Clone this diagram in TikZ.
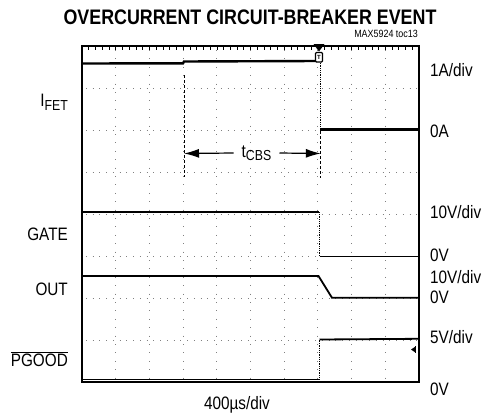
\documentclass[tikz,border=0pt]{standalone}
\usepackage{fontspec}
\setmainfont{Liberation Sans}
\newfontfamily\narrowfont[FakeStretch=0.85]{Liberation Sans}
\usetikzlibrary{arrows.meta}
\begin{document}
\begin{tikzpicture}[x=1pt,y=-1pt,
  lab/.style={font=\narrowfont\fontsize{18}{18}\selectfont, inner sep=0pt},
  titlelab/.style={font=\narrowfont\bfseries\fontsize{21}{21}\selectfont, inner sep=0pt},
  smalllab/.style={font=\narrowfont\fontsize{10.5}{10.5}\selectfont, inner sep=0pt},
  vgrid/.style={gray, line width=0.9pt, dash pattern=on 0.9pt off 7.5pt},
  hgrid/.style={gray, line width=0.9pt, dash pattern=on 0.9pt off 5.84pt},
  trace/.style={black, line width=1.8pt},
  edgeline/.style={black, line width=0.8pt, densely dotted},
  marker/.style={black, line width=1pt, dash pattern=on 3pt off 2pt},
  dimarrow/.style={black, line width=1.2pt, -{Latex[length=15pt,width=9pt]}},
  frame/.style={black, line width=2.4pt}
]
\useasboundingbox[fill=white] (0,0) rectangle (490,418);

% grid
\foreach \i in {1,...,9} {
  \draw[vgrid] ({82+33.7*\i},50) -- ({82+33.7*\i},382);
}
\foreach \j in {1,...,7} {
  \draw[hgrid] (86,{46+42*\j}) -- (419,{46+42*\j});
}
% ticks on top border
\foreach \k in {1,...,49} {
  \draw[black, line width=0.6pt] ({82+6.74*\k},46) -- ({82+6.74*\k},50);
}

% frame
\draw[frame] (82,46) rectangle (419,382);

% I_FET trace
\draw[trace, line width=2.4pt] (83,63.5) -- (183,63.3) -- (184,61.5) -- (317,61);
\draw[edgeline] (320.5,61) -- (320.5,129);
\draw[trace, line width=2.4pt] (320,129.5) -- (418,129.5);

% trigger marker
\fill[black] (313.5,44) -- (324.5,44) -- (319,51.5) -- cycle;
\draw[black, line width=1.2pt, fill=white, rounded corners=1pt] (315.5,52.5) rectangle (322.5,62);
\node[inner sep=0pt, font=\fontsize{6}{6}\selectfont\bfseries] (trig) at (319,57.5) {T};

% GATE trace
\draw[trace] (83,212) -- (318.5,212);
\draw[edgeline] (319.5,212) -- (319.5,256);
\draw[trace] (319.5,256.5) -- (418,256.5);

% OUT trace
\draw[trace] (83,276) -- (318.5,276) -- (332,297.8) -- (418,297.8);

% PGOOD trace
\draw[trace] (83,379.5) -- (318.5,379.5);
\draw[edgeline] (319.5,379.5) -- (319.5,339.5);
\draw[trace] (319.5,339.5) -- (418,338.8);
\fill[black] (411,349.5) -- (415.5,346.5) -- (415.5,352.5) -- cycle;
\draw[black, line width=0.8pt] (415,346) -- (415,353);

% t_CBS markers
\coordinate (mL) at (184,153.5);
\coordinate (mR) at (320.8,153.5);
\draw[marker] (184,75) -- (184,177);
\draw[marker] (320.8,131) -- (320.8,178);
\node[lab] (tcbs) at (256.5,153) {t\raisebox{-0.35ex}{\fontsize{14.5}{14.5}\selectfont CBS}};
\draw[dimarrow] ([xshift=-8pt]tcbs.west) -- (mL);
\draw[dimarrow] ([xshift=8pt]tcbs.east) -- (mR);

% title
\node[titlelab] (title) at (250,17.5) {OVERCURRENT CIRCUIT-BREAKER EVENT};
\node[smalllab, anchor=east] (toc) at (418,33.5) {MAX5924 toc13};

% left labels
\node[lab, anchor=east] (ifet) at (68,102) {I\raisebox{-0.4ex}{\fontsize{14.5}{14.5}\selectfont FET}};
\node[lab, anchor=east] (gate) at (68,234) {GATE};
\node[lab, anchor=east] (out) at (68,289) {OUT};
\node[lab, anchor=east] (pgood) at (68,359) {$\overline{\hbox{PGOOD}}$};

% right labels
\node[lab, anchor=west] (r1) at (430,70) {1A/div};
\node[lab, anchor=west] (r2) at (430,131) {0A};
\node[lab, anchor=west] (r3) at (430,212) {10V/div};
\node[lab, anchor=west] (r4) at (430,255) {0V};
\node[lab, anchor=west] (r5) at (430,277) {10V/div};
\node[lab, anchor=west] (r6) at (430,297.5) {0V};
\node[lab, anchor=west] (r7) at (430,337) {5V/div};
\node[lab, anchor=west] (r8) at (430,389) {0V};

% bottom label
\node[lab] (tdiv) at (237,405) {400µs/div};
\end{tikzpicture}
\end{document}
